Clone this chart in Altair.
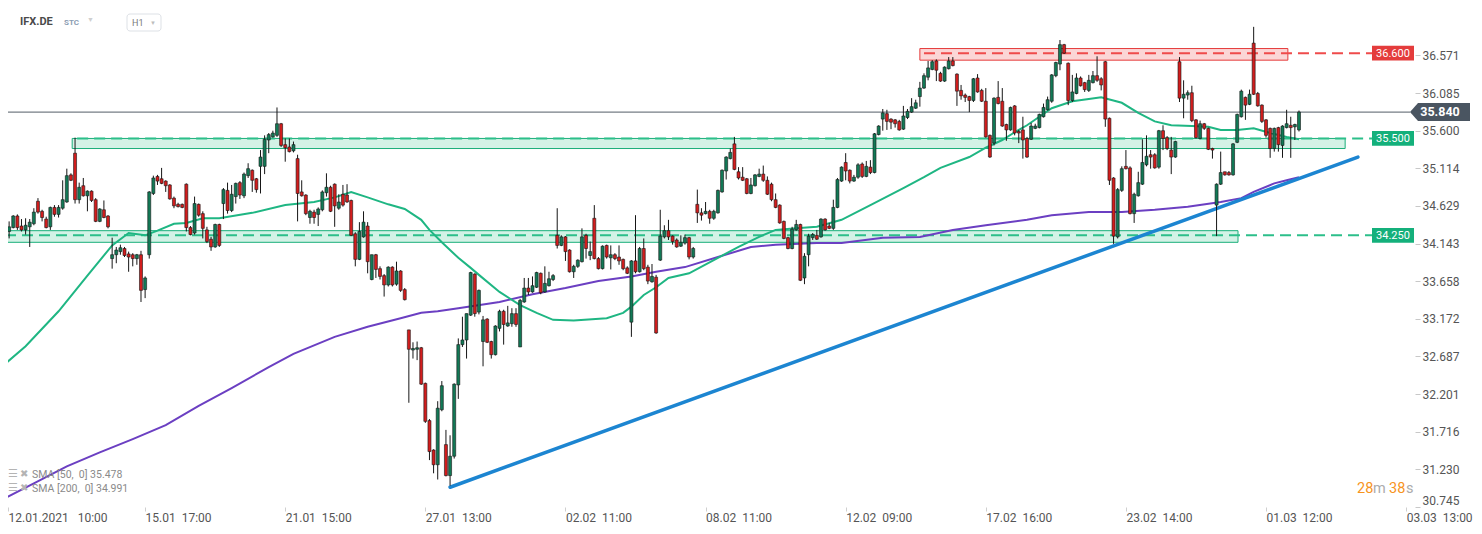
import altair as alt
import pandas as pd

# ---------------- data (hourly candles, bar index 0 = 12.01.2021 10:00) ----------------
OPEN = [
33.84,34.30,34.35,34.50,34.37,34.32,34.36,34.40,34.69,34.56,
34.46,34.36,34.61,34.52,34.60,34.68,35.03,35.31,34.71,34.89,
34.76,34.82,34.71,34.43,34.58,34.50,33.95,34.00,34.04,34.08,
34.01,34.00,33.95,34.00,33.55,34.00,34.79,35.01,34.98,34.95,
34.90,34.73,34.65,34.65,34.91,34.35,34.28,34.65,34.53,34.32,
34.20,34.10,34.39,34.66,34.83,34.57,34.75,34.93,34.76,35.02,
35.09,34.98,35.14,35.14,35.48,35.52,35.54,35.69,35.42,35.39,
35.34,35.24,34.81,34.77,34.48,34.55,34.52,34.58,34.80,34.87,
34.91,34.60,34.78,34.77,34.70,34.27,33.94,34.23,34.37,33.68,
34.00,33.82,33.73,33.61,33.84,33.62,33.79,33.55,33.03,32.77,
32.78,32.80,32.34,31.86,31.48,31.29,32.00,31.55,31.15,31.40,
32.32,32.84,32.90,33.22,33.75,33.26,32.88,33.17,32.88,32.71,
33.05,33.27,33.08,33.11,33.24,32.81,33.39,33.57,33.52,33.58,
33.76,33.52,33.60,33.68,34.25,34.12,34.23,34.06,33.78,33.85,
33.91,34.25,33.99,34.47,33.95,33.82,34.12,33.96,34.00,33.97,
33.94,33.83,33.13,33.92,33.78,34.08,33.84,33.65,33.71,33.93,
34.23,34.31,34.24,34.19,34.11,34.15,34.22,33.97,34.65,34.54,
34.53,34.56,34.47,34.54,34.81,35.08,35.24,35.43,35.07,35.00,
34.98,34.79,34.89,35.01,35.04,34.96,34.91,34.71,34.64,34.43,
34.22,34.08,34.32,34.39,33.70,34.00,34.22,34.25,34.23,34.46,
34.37,34.34,34.61,34.95,35.19,35.09,34.95,35.00,35.17,35.01,
35.13,35.06,35.55,35.75,35.82,35.75,35.74,35.72,35.62,35.77,
35.84,35.89,36.04,36.15,36.29,36.39,36.50,36.34,36.24,36.40,
36.50,36.33,36.12,36.06,36.04,35.99,36.28,36.12,35.98,35.54,
35.44,36.03,35.98,35.68,35.61,35.92,35.59,35.61,35.50,35.49,
35.63,35.64,35.78,35.87,35.98,36.31,36.46,36.71,36.47,35.99,
36.08,36.28,36.22,36.12,36.22,36.31,36.27,36.49,35.76,34.99,
34.23,34.83,35.14,35.12,34.53,34.76,34.91,35.16,35.29,35.29,
35.13,35.60,35.51,35.35,35.26,36.49,36.02,36.06,36.09,35.74,
35.50,35.69,35.63,35.37,34.64,34.91,35.07,35.06,35.03,35.45,
35.78,36.03,35.94,36.73,36.08,35.93,35.74,35.63,35.37,35.64,
35.41,35.64,35.67,35.65,35.61]
HIGH = [
34.32,34.43,34.51,34.52,34.46,34.47,34.46,34.60,34.73,34.58,
34.49,34.62,34.64,34.64,34.96,35.11,35.05,35.51,34.93,34.99,
34.83,34.83,34.73,34.60,34.70,34.51,34.22,34.10,34.13,34.10,
34.04,34.02,34.01,34.05,33.72,34.82,35.02,35.03,35.12,34.96,
34.91,34.75,34.67,34.66,34.92,34.37,34.75,34.66,34.56,34.36,
34.23,34.40,34.40,34.86,34.93,34.90,34.93,34.95,35.06,35.18,
35.10,34.99,35.35,35.54,35.57,35.60,35.90,35.70,35.50,35.50,
35.46,35.29,34.96,34.78,34.58,34.58,34.61,34.83,35.05,34.89,
34.92,34.78,34.90,34.91,34.71,34.29,34.42,34.56,34.42,34.00,
34.01,33.85,33.75,33.85,33.85,33.91,33.80,33.57,33.03,32.87,
32.88,32.81,32.35,31.88,31.49,32.11,32.37,31.74,31.67,32.34,
32.92,33.20,33.24,33.78,33.76,33.55,33.21,33.18,32.89,33.09,
33.29,33.29,33.34,33.31,33.31,33.43,33.70,33.70,33.72,33.78,
33.77,33.85,33.78,33.75,34.60,34.25,34.24,34.07,33.87,33.94,
34.34,34.27,34.17,34.64,33.97,34.12,34.13,34.12,34.02,34.12,
33.95,33.85,33.93,34.51,34.10,34.21,33.87,33.88,33.74,34.58,
34.38,34.45,34.25,34.21,34.25,34.26,34.23,34.10,34.84,34.60,
34.68,34.58,34.58,34.84,35.10,35.27,35.37,35.52,35.13,35.13,
34.99,34.99,35.04,35.11,35.15,35.01,34.93,34.79,34.65,34.44,
34.23,34.36,34.45,34.40,34.02,34.27,34.28,34.32,34.47,34.47,
34.41,34.71,34.99,35.14,35.31,35.10,35.03,35.18,35.19,35.21,
35.22,35.57,35.67,35.88,35.87,35.76,35.75,35.74,35.92,35.88,
36.02,36.00,36.23,36.34,36.50,36.51,36.52,36.36,36.43,36.55,
36.55,36.34,36.19,36.08,36.05,36.28,36.33,36.14,36.15,35.55,
36.03,36.24,36.15,35.69,35.91,35.93,35.61,35.78,35.52,35.70,
35.69,35.82,35.95,36.04,36.33,36.49,36.77,36.72,36.48,36.32,
36.34,36.30,36.23,36.32,36.37,36.56,36.29,36.50,35.77,35.00,
34.86,35.14,35.35,35.14,34.80,35.07,35.49,35.54,35.35,35.31,
35.61,35.67,35.53,35.52,35.47,36.55,36.25,36.12,36.18,35.75,
35.73,35.70,35.64,35.38,34.92,35.33,35.07,35.08,35.44,35.82,
36.13,36.04,36.13,36.94,36.10,35.94,35.75,35.64,35.64,35.65,
35.67,35.87,35.78,35.69,35.86]
LOW = [
33.72,34.21,34.34,34.32,34.30,34.26,34.10,34.38,34.53,34.43,
34.34,34.32,34.49,34.48,34.58,34.67,34.95,34.66,34.66,34.75,
34.56,34.68,34.42,34.42,34.47,34.34,33.82,33.89,34.00,33.97,
33.78,33.85,33.87,33.39,33.44,33.95,34.77,34.90,34.91,34.81,
34.71,34.60,34.61,34.60,34.30,34.25,34.26,34.49,34.21,34.15,
34.05,34.09,34.10,34.46,34.53,34.55,34.66,34.72,34.73,34.99,
34.81,34.80,34.79,35.04,35.31,35.51,35.52,35.39,35.20,35.32,
35.32,34.43,34.75,34.51,34.40,34.40,34.37,34.56,34.75,34.55,
34.36,34.58,34.62,34.67,34.24,33.85,33.93,34.22,33.76,33.67,
33.70,33.68,33.46,33.59,33.59,33.60,33.52,33.41,32.09,32.66,
32.64,32.32,31.83,31.35,31.18,31.10,31.98,31.14,31.02,31.37,
32.14,32.81,32.66,33.21,33.20,33.23,32.56,32.86,32.66,32.70,
33.01,32.84,33.07,33.07,33.07,32.81,33.38,33.48,33.51,33.57,
33.49,33.51,33.59,33.66,34.08,34.11,33.92,33.77,33.70,33.83,
33.90,33.95,33.93,33.94,33.81,33.81,33.95,33.81,33.93,33.87,
33.80,33.75,32.94,33.76,33.77,33.80,33.62,33.64,32.98,33.92,
34.21,34.19,34.13,34.09,34.10,34.13,33.94,33.95,34.41,34.44,
34.52,34.40,34.45,34.53,34.80,34.97,35.23,35.09,34.97,34.95,
34.78,34.78,34.88,35.00,34.94,34.77,34.69,34.60,34.40,34.20,
34.07,34.07,34.31,33.66,33.62,33.85,34.19,34.19,34.22,34.31,
34.33,34.32,34.60,34.94,34.96,34.92,34.94,34.98,34.99,35.00,
35.04,35.05,35.54,35.60,35.61,35.62,35.64,35.60,35.61,35.75,
35.83,35.88,35.91,36.14,36.25,36.38,36.24,36.23,36.23,36.39,
36.43,35.92,36.00,35.97,35.84,35.97,36.09,35.97,35.51,35.25,
35.41,35.94,35.65,35.47,35.60,35.54,35.44,35.24,35.25,35.48,
35.62,35.63,35.77,35.86,35.96,36.29,36.38,36.59,35.93,35.97,
36.07,36.17,36.10,36.10,36.21,36.23,36.12,35.65,34.90,34.14,
34.21,34.81,35.10,34.52,34.41,34.75,34.90,35.14,35.11,35.11,
35.11,35.35,35.35,35.04,35.25,35.97,35.76,36.00,35.71,35.50,
35.49,35.61,35.35,35.24,34.24,34.90,35.02,35.02,35.02,35.44,
35.77,35.74,35.93,36.06,35.91,35.70,35.51,35.25,35.33,35.33,
35.25,35.63,35.25,35.48,35.59]
CLOSE = [
34.30,34.36,34.50,34.35,34.32,34.38,34.42,34.55,34.55,34.48,
34.35,34.61,34.52,34.61,34.71,35.02,34.96,34.71,34.87,34.76,
34.82,34.70,34.43,34.59,34.48,34.36,34.00,34.06,34.09,33.99,
33.97,33.95,34.00,33.54,33.70,34.81,34.99,34.95,34.92,34.89,
34.72,34.63,34.62,34.61,34.35,34.26,34.66,34.51,34.34,34.17,
34.10,34.39,34.12,34.84,34.57,34.78,34.92,34.77,35.04,35.11,
34.96,34.84,35.26,35.49,35.55,35.57,35.69,35.41,35.38,35.33,
35.42,34.79,34.76,34.53,34.56,34.48,34.59,34.81,34.87,34.56,
34.63,34.68,34.64,34.68,34.25,33.94,34.30,34.42,33.91,34.00,
33.81,33.72,33.61,33.84,33.61,33.79,33.54,33.42,32.78,32.79,
32.80,32.33,31.85,31.46,31.29,32.02,32.31,31.15,31.40,32.33,
32.84,32.90,33.24,33.77,33.24,33.54,33.16,32.87,32.71,33.08,
33.27,33.10,33.12,33.24,33.10,33.41,33.57,33.52,33.60,33.77,
33.51,33.63,33.69,33.73,34.12,34.23,34.04,33.78,33.85,33.93,
34.23,34.08,34.04,33.95,33.82,34.11,33.97,34.00,33.95,33.92,
33.82,33.76,33.92,33.78,34.08,33.82,33.66,33.72,32.99,34.24,
34.31,34.23,34.17,34.10,34.16,34.22,33.97,34.08,34.54,34.51,
34.56,34.47,34.56,34.83,35.09,35.26,35.32,35.10,34.99,34.96,
34.79,34.90,35.03,35.04,34.96,34.78,34.71,34.61,34.41,34.21,
34.08,34.33,34.39,33.67,33.98,34.24,34.26,34.20,34.46,34.32,
34.34,34.61,34.97,35.13,35.08,34.95,35.00,35.16,35.01,35.14,
35.06,35.56,35.66,35.83,35.72,35.71,35.69,35.61,35.79,35.85,
35.91,35.96,36.15,36.31,36.41,36.49,36.38,36.24,36.42,36.50,
36.44,36.11,36.05,36.03,35.99,36.27,36.10,35.98,35.52,35.26,
36.02,35.95,35.66,35.61,35.90,35.57,35.57,35.48,35.26,35.66,
35.66,35.81,35.90,36.00,36.32,36.48,36.71,36.60,35.99,36.10,
36.28,36.18,36.13,36.25,36.31,36.25,36.19,35.75,34.96,34.24,
34.84,35.11,35.11,34.53,34.78,34.93,35.19,35.27,35.26,35.12,
35.60,35.50,35.37,35.26,35.46,36.02,36.07,36.09,35.73,35.51,
35.69,35.63,35.36,35.35,34.91,35.06,35.03,35.03,35.43,35.81,
36.11,35.93,36.07,36.07,35.92,35.72,35.54,35.37,35.63,35.42,
35.66,35.69,35.64,35.68,35.84]

SMA50_IDX = [0,5,13,20,26,30,34,37,41,44,48,52,60,68,75,80,84,88,93,97,
             101,103,106,110,113,115,120,125,129,133,138,146,150,152,155,158,161,166,173,178,
             183,187,192,197,203,210,218,223,227,234,238,242,245,248,251,254,259,263,266,271,
             275,279,283,288,292,295,299,303,307,311,314]
SMA50_VAL = [32.59,32.82,33.27,33.73,34.12,34.28,34.25,34.31,34.40,34.41,34.47,34.47,34.54,34.64,34.68,34.74,34.81,34.74,34.65,34.59,
             34.45,34.32,34.16,33.96,33.83,33.74,33.52,33.35,33.25,33.16,33.15,33.18,33.25,33.33,33.48,33.58,33.70,33.76,33.96,34.10,
             34.23,34.32,34.34,34.36,34.45,34.64,34.86,35.00,35.12,35.26,35.38,35.48,35.58,35.67,35.78,35.89,35.98,36.01,36.03,35.96,
             35.83,35.72,35.67,35.66,35.65,35.61,35.61,35.63,35.57,35.52,35.49]
SMA200_IDX = [0,7,15,23,31,39,47,55,64,70,80,88,96,101,105,110,114,120,128,136,
              144,152,158,165,173,181,187,197,203,213,222,230,238,248,254,263,271,279,287,295,
              300,303,308,311,314]
SMA200_VAL = [30.86,31.05,31.27,31.45,31.62,31.80,32.05,32.28,32.55,32.72,32.94,33.07,33.18,33.25,33.27,33.31,33.34,33.39,33.49,33.57,
              33.66,33.72,33.78,33.84,33.97,34.10,34.13,34.15,34.15,34.22,34.23,34.32,34.38,34.45,34.51,34.55,34.55,34.58,34.62,34.68,
              34.73,34.81,34.92,34.96,35.00]

TREND_IDX = [108, 328.3]
TREND_VAL = [31.00, 35.26]

# horizontal zones and levels
RES_ZONE = {"start": [222.0], "end": [311.3], "low": [36.51], "high": [36.66]}
SUP_ZONE = {"start": [16.3, -0.5], "end": [325.2, 299.2], "low": [35.37, 34.16], "high": [35.50, 34.31]}
RES_LEVEL = {"start": [223.0], "p": [36.600]}
SUP_LEVEL = {"start": [17.5, 0.0], "p": [35.500, 34.250]}
LAST_PRICE = 35.840

X_MIN, X_MAX = 0.728, 342.15   # visible bar-index range
Y_MIN, Y_MAX = 30.745, 37.183  # visible price range

Y_TICKS = [30.745, 31.230, 31.716, 32.201, 32.687, 33.172, 33.658, 34.143, 34.629, 35.114, 35.600, 36.085, 36.571]
NB = "\u00a0"
X_TICK_IDX = [X_MIN, 34, 68, 102, 136, 170, 204, 238, 272, 306, 340]
X_TICK_LABELS = ["12.01.2021" + NB * 3 + "10:00", "15.01" + NB * 2 + "17:00", "21.01" + NB * 2 + "15:00",
                 "27.01" + NB * 2 + "13:00", "02.02" + NB * 2 + "11:00", "08.02" + NB * 2 + "11:00",
                 "12.02" + NB * 2 + "09:00", "17.02" + NB * 2 + "16:00", "23.02" + NB * 2 + "14:00",
                 "01.03" + NB * 2 + "12:00", "03.03" + NB * 2 + "13:00"]
SYMBOL = "IFX.DE"
SMA_LEGEND = ["SMA [50," + NB * 2 + "0] 35.478", "SMA [200," + NB * 2 + "0] 34.991"]

# ---------------- styles ----------------
FONT = "Roboto"
UP = "#127956"
DOWN = "#d21d1d"
SMA50_C = "#1fb683"
SMA200_C = "#6b3fc2"
TREND_C = "#1c85d1"
RES_C = "#e53b3b"
SUP_C = "#1aae7a"

xs = alt.Scale(domain=[X_MIN, X_MAX], nice=False, zero=False, padding=0)
ys = alt.Scale(domain=[Y_MIN, Y_MAX], nice=False, zero=False, padding=0)

candles = pd.DataFrame({"i": list(range(len(OPEN))), "o": OPEN, "h": HIGH, "l": LOW, "c": CLOSE})
candles["dir"] = ["up" if c >= o else "down" for o, c in zip(OPEN, CLOSE)]

label_expr = " : ".join(f"datum.value == {v} ? '{t}'" for v, t in zip(X_TICK_IDX, X_TICK_LABELS)) + " : ''"

x_axis = alt.Axis(values=X_TICK_IDX, labelExpr=label_expr, title=None, domain=False, grid=False,
                  tickSize=4, tickColor="#cfcfcf", labelAlign="left", labelBaseline="top",
                  labelPadding=1, labelFontSize=12, labelColor="#555555", labelFont=FONT,
                  labelFlush=False, labelOverlap=False)
y_axis = alt.Axis(orient="right", values=Y_TICKS, format=".3f", title=None, domain=False, grid=False,
                  tickSize=5, tickColor="#c8c8c8", labelPadding=2, labelFontSize=12,
                  labelColor="#555555", labelFont=FONT, labelFlush=2, labelOverlap=False)


def X(f):
    return alt.X(f, scale=xs, axis=x_axis)


def Y(f):
    return alt.Y(f, scale=ys, axis=y_axis)


res_zone = alt.Chart(pd.DataFrame(RES_ZONE)).mark_rect(fill="#fbd6d6", stroke=RES_C, strokeWidth=1).encode(
    x=X("start:Q"), x2="end:Q", y=Y("low:Q"), y2="high:Q")
sup_zone = alt.Chart(pd.DataFrame(SUP_ZONE)).mark_rect(fill="#d3f2e6", stroke=SUP_C, strokeWidth=1).encode(
    x=X("start:Q"), x2="end:Q", y=Y("low:Q"), y2="high:Q")

res_dash = alt.Chart(pd.DataFrame(RES_LEVEL)).mark_rule(strokeDash=[11, 6], strokeWidth=2, color="#ef4b4b").encode(
    x=X("start:Q"), x2=alt.value(1364), y=Y("p:Q"))
sup_dash = alt.Chart(pd.DataFrame(SUP_LEVEL)).mark_rule(strokeDash=[11, 6], strokeWidth=2, color="#2cbf8a").encode(
    x=X("start:Q"), x2=alt.value(1364), y=Y("p:Q"))

last_df = pd.DataFrame({"p": [LAST_PRICE]})
last_line = alt.Chart(last_df).mark_rule(color="#525d67", strokeWidth=1).encode(
    x=alt.value(0), x2=alt.value(1402), y=Y("p:Q"))

sma200 = alt.Chart(pd.DataFrame({"i": SMA200_IDX, "v": SMA200_VAL})).mark_line(
    color=SMA200_C, strokeWidth=2).encode(x=X("i:Q"), y=Y("v:Q"))
sma50 = alt.Chart(pd.DataFrame({"i": SMA50_IDX, "v": SMA50_VAL})).mark_line(
    color=SMA50_C, strokeWidth=2).encode(x=X("i:Q"), y=Y("v:Q"))
trend = alt.Chart(pd.DataFrame({"i": TREND_IDX, "v": TREND_VAL})).mark_line(
    color=TREND_C, strokeWidth=3.5, strokeCap="round").encode(x=X("i:Q"), y=Y("v:Q"))

wicks = alt.Chart(candles).mark_rule(color="#161616", strokeWidth=1).encode(
    x=X("i:Q"), y=Y("l:Q"), y2="h:Q")
bodies = alt.Chart(candles).mark_bar(size=3, stroke="#161616", strokeWidth=0.6, orient="vertical").encode(
    x=X("i:Q"), y=Y("o:Q"), y2="c:Q",
    fill=alt.Fill("dir:N", scale=alt.Scale(domain=["up", "down"], range=[UP, DOWN]), legend=None))

TAG_SHAPE = "M-1,-0.35L1,-0.35L1,0.35L-1,0.35Z"
res_tag = alt.Chart(pd.DataFrame(RES_LEVEL)).mark_point(shape=TAG_SHAPE, size=1764, filled=True, opacity=1,
                                                       strokeWidth=0, color="#e43c3c").encode(
    x=alt.value(1385), y=Y("p:Q"))
sup_tag = alt.Chart(pd.DataFrame(SUP_LEVEL)).mark_point(shape=TAG_SHAPE, size=1764, filled=True, opacity=1,
                                                       strokeWidth=0, color="#14b07b").encode(
    x=alt.value(1385), y=Y("p:Q"))
level_text = alt.Chart(pd.DataFrame({"p": RES_LEVEL["p"] + SUP_LEVEL["p"]})).mark_text(
    color="white", fontSize=11, font=FONT, baseline="middle", align="center", dy=1).encode(
    x=alt.value(1385), y=Y("p:Q"), text=alt.Text("p:Q", format=".3f"))

LAST_SHAPE = "M-1,0L-0.733,-0.3L1,-0.3L1,0.3L-0.733,0.3Z"
last_tag = alt.Chart(last_df).mark_point(shape=LAST_SHAPE, size=3600, filled=True, opacity=1,
                                         strokeWidth=0, color="#4a5561").encode(x=alt.value(1432), y=Y("p:Q"))
last_text = alt.Chart(last_df).mark_text(color="white", fontSize=12.5, fontWeight="bold", font=FONT,
                                         baseline="middle", align="center").encode(
    x=alt.value(1432), y=Y("p:Q"), text=alt.Text("p:Q", format=".3f"))


def label(txt, x, y, size, color, weight="normal", align="left"):
    return alt.Chart(pd.DataFrame({"t": [txt]})).mark_text(
        align=align, baseline="middle", fontSize=size, color=color, fontWeight=weight, font=FONT
    ).encode(text="t:N", x=alt.value(x), y=alt.value(y))


h1_box = alt.Chart(pd.DataFrame({"t": ["H1"]})).mark_rect(
    fill="white", stroke="#dde1e6", strokeWidth=1, cornerRadius=3).encode(
    x=alt.value(119), x2=alt.value(153), y=alt.value(6), y2=alt.value(23))

decor = [
    label(SYMBOL, 12, 14, 11, "#4a4a4a", "bold"),
    label("STC", 56, 15, 8, "#8c9db3", "bold"),
    label("▼", 79, 12, 7, "#cfcfcf"),
    h1_box,
    label("H1", 124, 15, 9, "#7a7a7a"),
    label("▼", 142, 15, 6, "#bdbdbd"),
    label("☰", 0, 466, 11, "#b4b4b4"),
    label("✖", 12, 466, 10, "#b4b4b4"),
    label(SMA_LEGEND[0], 24, 467, 10.5, "#8a8a8a"),
    label("☰", 0, 480, 11, "#b4b4b4"),
    label("✖", 12, 480, 10, "#b4b4b4"),
    label(SMA_LEGEND[1], 24, 481, 10.5, "#8a8a8a"),
    label("28", 1349, 481, 14.5, "#f7941d"),
    label("m", 1365, 481, 14.5, "#ababab"),
    label("38", 1381, 481, 14.5, "#f7941d"),
    label("s", 1398, 481, 14.5, "#ababab"),
]

chart = (
    alt.layer(
        res_zone, sup_zone, res_dash, sup_dash, last_line, sma200, sma50, trend,
        wicks, bodies, res_tag, sup_tag, level_text, last_tag, last_text, *decor
    )
    .properties(width=1407, height=499, background="white",
                autosize=alt.AutoSizeParams(type="none"),
                padding={"left": 0, "top": 0, "right": 58, "bottom": 19})
    .configure(font=FONT)
    .configure_view(stroke=None, strokeWidth=0)
)

chart.save("out.html", embed_options={"renderer": "svg", "actions": False})
